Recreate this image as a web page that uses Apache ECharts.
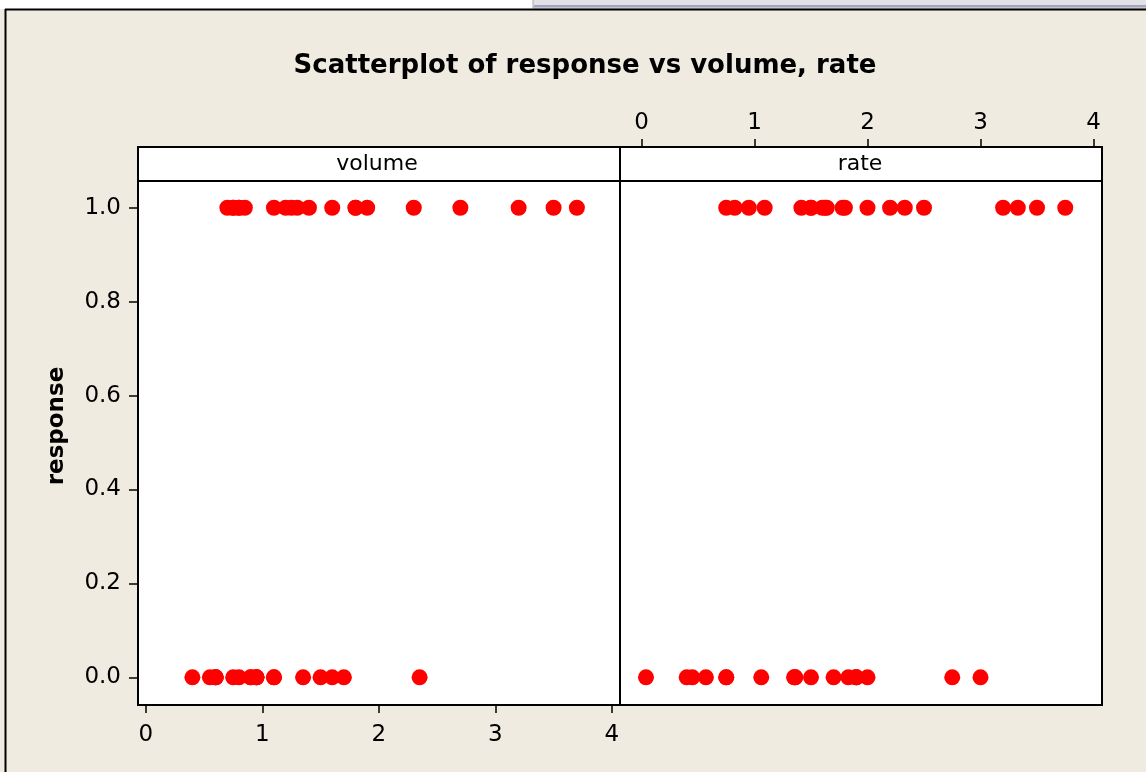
<!DOCTYPE html>
<html>
<head>
<meta charset="utf-8">
<title>Scatterplot of response vs volume, rate</title>
<script src="https://cdn.jsdelivr.net/npm/echarts@6/dist/echarts.min.js"></script>
<style>
html, body { margin:0; padding:0; background:#fff; }
#chart { width:1146px; height:772px; }
</style>
</head>
<body>
<div id="chart"></div>
<script>
// observations (volume, rate, response)
var volume = [3.70,3.50,1.25,0.75,0.80,0.70,0.60,1.10,0.90,0.90,0.80,0.55,0.60,1.40,0.75,2.30,3.20,0.85,1.70,1.80,
	0.40,0.95,1.35,1.50,1.60,0.60,1.80,0.95,1.90,1.60,2.70,2.35,1.10,1.10,1.20,0.80,0.95,0.75,1.30];
var rate = [0.825,1.09,2.50,1.50,3.20,3.50,0.75,1.70,0.75,0.45,0.57,2.75,3.00,2.33,3.75,1.64,1.60,1.415,1.06,1.80,
	2.00,1.36,1.35,1.36,1.78,1.50,1.50,1.90,0.95,0.40,0.75,0.04,1.83,2.20,2.00,3.33,1.90,1.90,1.625];
var response = [1,1,1,1,1,1,0,0,0,0,0,0,0,1,1,1,1,1,0,1,
	0,0,0,0,1,0,1,0,1,0,1,0,0,1,1,1,0,0,1];

var xTicks = [0, 1, 2, 3, 4];
var yTicks = [0, 0.2, 0.4, 0.6, 0.8, 1.0];
var panelNames = ['volume', 'rate'];

var FONT = 'DejaVu Sans';
var BG = '#EFEBE1';

var volData = [], rateData = [];
for (var i = 0; i < response.length; i++) {
	volData.push([volume[i], response[i]]);
	rateData.push([rate[i], response[i]]);
}

var myChart = echarts.init(document.getElementById('chart'), null, {renderer: 'canvas'});

function xAxisCfg(grid, pos, min, max, offset) {
	return {
		type: 'value', gridIndex: grid, position: pos, offset: offset,
		min: min, max: max,
		splitLine: {show: false},
		axisLine: {show: pos == 'bottom', onZero: false, lineStyle: {color: '#000', width: 2}},
		axisTick: {show: true, inside: false, length: 8, customValues: xTicks, lineStyle: {color: '#000', width: 1.5}},
		axisLabel: {show: true, customValues: xTicks, margin: pos == 'bottom' ? 19 : 12,
			color: '#000', fontFamily: FONT, fontSize: 23}
	};
}

var option = {
	backgroundColor: BG,
	animation: false,
	title: {
		text: 'Scatterplot of response vs volume, rate',
		left: 580, top: 48, textAlign: 'center',
		textStyle: {fontFamily: FONT, fontWeight: 'bold', fontSize: 26, color: '#000'}
	},
	grid: [
		{left: 138, right: 526, top: 181, bottom: 67, show: true, borderColor: '#000', borderWidth: 2, backgroundColor: '#fff'},
		{left: 620, right: 44, top: 181, bottom: 67, show: true, borderColor: '#000', borderWidth: 2, backgroundColor: '#fff'}
	],
	xAxis: [
		xAxisCfg(0, 'bottom', -0.067, 4.07, 0),
		xAxisCfg(1, 'top', -0.19, 4.075, 34)
	],
	yAxis: [
		{
			type: 'value', gridIndex: 0, min: -0.059, max: 1.057,
			splitLine: {show: false},
			axisLine: {show: true, onZero: false, lineStyle: {color: '#000', width: 2}},
			axisTick: {show: true, length: 9, customValues: yTicks, lineStyle: {color: '#000', width: 1.5}},
			axisLabel: {customValues: yTicks, margin: 17, color: '#000', fontFamily: FONT, fontSize: 23,
				formatter: function (v) { return v.toFixed(1); }}
		},
		{
			type: 'value', gridIndex: 1, min: -0.059, max: 1.057,
			splitLine: {show: false}, axisLine: {show: false}, axisTick: {show: false}, axisLabel: {show: false}
		}
	],
	series: [
		{type: 'scatter', xAxisIndex: 0, yAxisIndex: 0, data: volData, symbol: 'circle', symbolSize: 16,
			itemStyle: {color: '#FF0000', opacity: 1}},
		{type: 'scatter', xAxisIndex: 1, yAxisIndex: 1, data: rateData, symbol: 'circle', symbolSize: 16,
			itemStyle: {color: '#FF0000', opacity: 1}}
	],
	graphic: [
		// window chrome at top
		{type: 'rect', shape: {x: 0, y: 0, width: 1146, height: 9}, style: {fill: '#fff'}, silent: true},
		{type: 'rect', shape: {x: 533, y: -2, width: 620, height: 10}, style: {fill: '#E2E2E6', stroke: '#A8A8B4', lineWidth: 1}, silent: true},
		{type: 'line', shape: {x1: 534, y1: 6, x2: 1146, y2: 6}, style: {stroke: '#A6A3BF', lineWidth: 2}, silent: true},
		{type: 'line', shape: {x1: 5, y1: 9.5, x2: 1146, y2: 9.5}, style: {stroke: '#000', lineWidth: 2}, silent: true},
		{type: 'line', shape: {x1: 5.5, y1: 9, x2: 5.5, y2: 772}, style: {stroke: '#000', lineWidth: 2}, silent: true},
		// panel strips
		{type: 'rect', shape: {x: 138, y: 147, width: 482, height: 34}, style: {fill: '#fff', stroke: '#000', lineWidth: 2}, silent: true},
		{type: 'rect', shape: {x: 620, y: 147, width: 482, height: 34}, style: {fill: '#fff', stroke: '#000', lineWidth: 2}, silent: true},
		{type: 'text', x: 377, y: 164, style: {text: panelNames[0], fill: '#000', font: '22px "DejaVu Sans"', textAlign: 'center', textVerticalAlign: 'middle'}, silent: true},
		{type: 'text', x: 860, y: 164, style: {text: panelNames[1], fill: '#000', font: '22px "DejaVu Sans"', textAlign: 'center', textVerticalAlign: 'middle'}, silent: true},
		// y axis title, centred on panel incl. strip
		{type: 'text', x: 57, y: 426, rotation: Math.PI / 2, style: {text: 'response', fill: '#000', font: 'bold 23px "DejaVu Sans"', textAlign: 'center', textVerticalAlign: 'middle'}, silent: true}
	]
};
myChart.setOption(option, true);
</script>
</body>
</html>
